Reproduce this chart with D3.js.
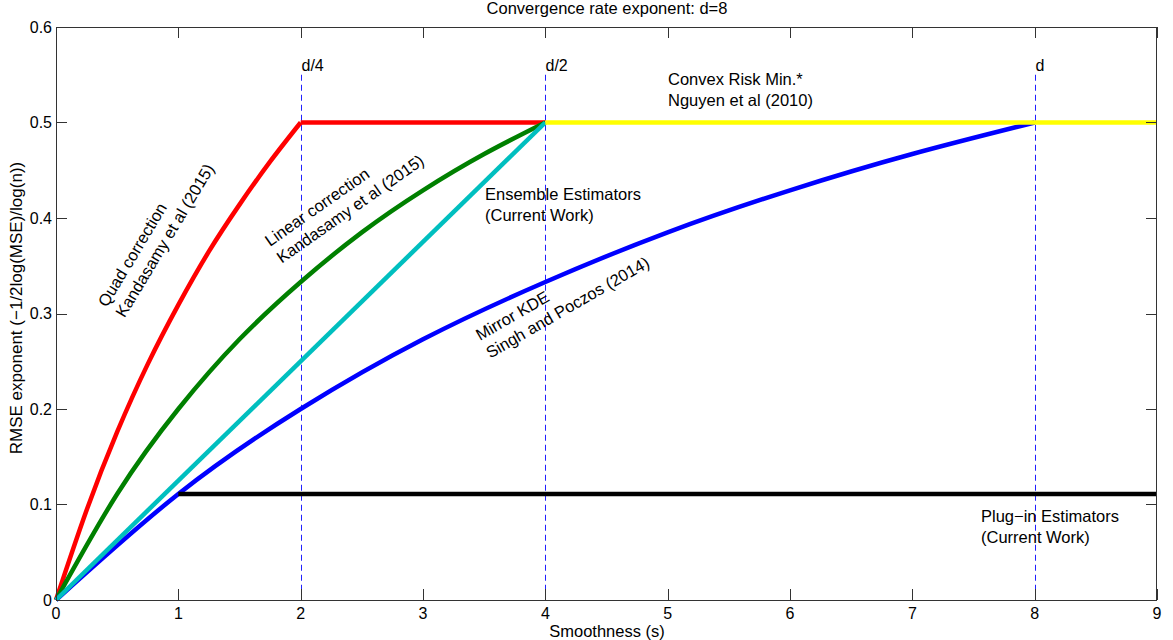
<!DOCTYPE html>
<html><head><meta charset="utf-8">
<script src="https://cdn.jsdelivr.net/npm/d3@7"></script>
<style>
body{margin:0;background:#fff;}
text{font-family:"Liberation Sans",Arial,Helvetica,sans-serif;fill:#000;}
</style></head>
<body><svg id="c" width="1173" height="640"></svg>
<script>
// ---- data ----
const xTicks = [0,1,2,3,4,5,6,7,8,9];
const yTicks = [0,0.1,0.2,0.3,0.4,0.5,0.6];
const quadS   = [0,0.25,0.5,0.75,1,1.25,1.5,1.75,2];
const quadY   = [0,0.094,0.176,0.247,0.309,0.365,0.414,0.459,0.5];
const quadFlatS = [2,4];
const quadFlatY = [0.5,0.5];
const linS    = [0,0.5,1,1.5,2,2.5,3,3.5,4];
const linY    = [0,0.111,0.2,0.273,0.333,0.385,0.429,0.467,0.5];
const mirrorS = [0,1,2,3,4,5,6,7,8];
const mirrorY = [0,0.111,0.2,0.273,0.333,0.385,0.429,0.467,0.5];
const ensS    = [0,4];
const ensY    = [0,0.5];
const plugS   = [1,9];
const plugY   = [0.111,0.111];
const convS   = [4,9];
const convY   = [0.5,0.5];
const markerS = [2,4,8];
const markerLabels = ["d/4","d/2","d"];
const markerTop = 0.55;

const svg=d3.select("#c");
const x=d3.scaleLinear().domain([0,9]).range([56,1157]);
const y=d3.scaleLinear().domain([0,0.6]).range([600,27]);
const pts=(S,Y)=>S.map((s,i)=>[s,Y[i]]);

// dashed markers
const g0=svg.append("g");
markerS.forEach((s,i)=>{
  const px=Math.round(x(s))+0.5;
  g0.append("line").attr("x1",px).attr("x2",px)
    .attr("y1",y(markerTop)).attr("y2",y(0))
    .attr("stroke","#2020ff").attr("stroke-width",1).attr("stroke-dasharray","6,4");
  g0.append("text").attr("x",px).attr("y",y(markerTop)-4)
    .attr("font-size",16).text(markerLabels[i]);
});

const smooth=d3.line().x(d=>x(d[0])).y(d=>y(d[1])).curve(d3.curveNatural);
const series=[
  {d:pts(quadS,quadY),c:"#ff0000"},
  {d:pts(quadFlatS,quadFlatY),c:"#ff0000"},
  {d:pts(linS,linY),c:"#008000"},
  {d:pts(mirrorS,mirrorY),c:"#0000ff"},
  {d:pts(ensS,ensY),c:"#00bfbf"},
  {d:pts(plugS,plugY),c:"#000000"},
  {d:pts(convS,convY),c:"#ffff00"}
];
series.forEach(s=>{
  svg.append("path").attr("d",smooth(s.d)).attr("fill","none")
    .attr("stroke",s.c).attr("stroke-width",4.5).attr("stroke-linejoin","round");
});

// axes box + ticks
const ax=svg.append("g").attr("stroke","#333").attr("stroke-width",1).attr("shape-rendering","crispEdges");
ax.append("rect").attr("x",56.5).attr("y",27.5).attr("width",1100).attr("height",572.5).attr("fill","none");
const tl=11;
xTicks.forEach(t=>{
  const px=Math.round(x(t))+0.5;
  ax.append("line").attr("x1",px).attr("x2",px).attr("y1",600).attr("y2",600-tl);
  ax.append("line").attr("x1",px).attr("x2",px).attr("y1",27).attr("y2",27+tl);
  svg.append("text").attr("x",x(t)).attr("y",619).attr("text-anchor","middle").attr("font-size",16).text(t);
});
yTicks.forEach(t=>{
  const py=Math.round(y(t))+0.5;
  ax.append("line").attr("x1",56).attr("x2",56+tl).attr("y1",py).attr("y2",py);
  ax.append("line").attr("x1",1157).attr("x2",1157-tl).attr("y1",py).attr("y2",py);
  svg.append("text").attr("x",52).attr("y",y(t)+5.5).attr("text-anchor","end").attr("font-size",16).text(t);
});

// titles
svg.append("text").attr("x",607).attr("y",14).attr("text-anchor","middle").attr("font-size",16.5)
  .text("Convergence rate exponent: d=8");
svg.append("text").attr("x",607).attr("y",637).attr("text-anchor","middle").attr("font-size",16.5)
  .text("Smoothness (s)");
svg.append("text").attr("transform","translate(22,308) rotate(-90)").attr("text-anchor","middle").attr("font-size",17)
  .text("RMSE exponent (\u22121/2log(MSE)/log(n))");

// annotations
function note(px,py,ang,lines){
  const t=svg.append("text").attr("transform",`translate(${px},${py}) rotate(${ang})`).attr("font-size",16.5);
  lines.forEach((l,i)=>t.append("tspan").attr("x",0).attr("y",i*20.5).text(l));
}
note(107,308,-59,["Quad correction","Kandasamy et al (2015)"]);
note(270,247,-35,["Linear correction","Kandasamy et al (2015)"]);
note(485,200,0,["Ensemble Estimators","(Current Work)"]);
note(480,341,-30,["Mirror KDE","Singh and Poczos (2014)"]);
note(668,85,0,["Convex Risk Min.*","Nguyen et al (2010)"]);
note(981,522,0,["Plug\u2212in Estimators","(Current Work)"]);
</script></body></html>
